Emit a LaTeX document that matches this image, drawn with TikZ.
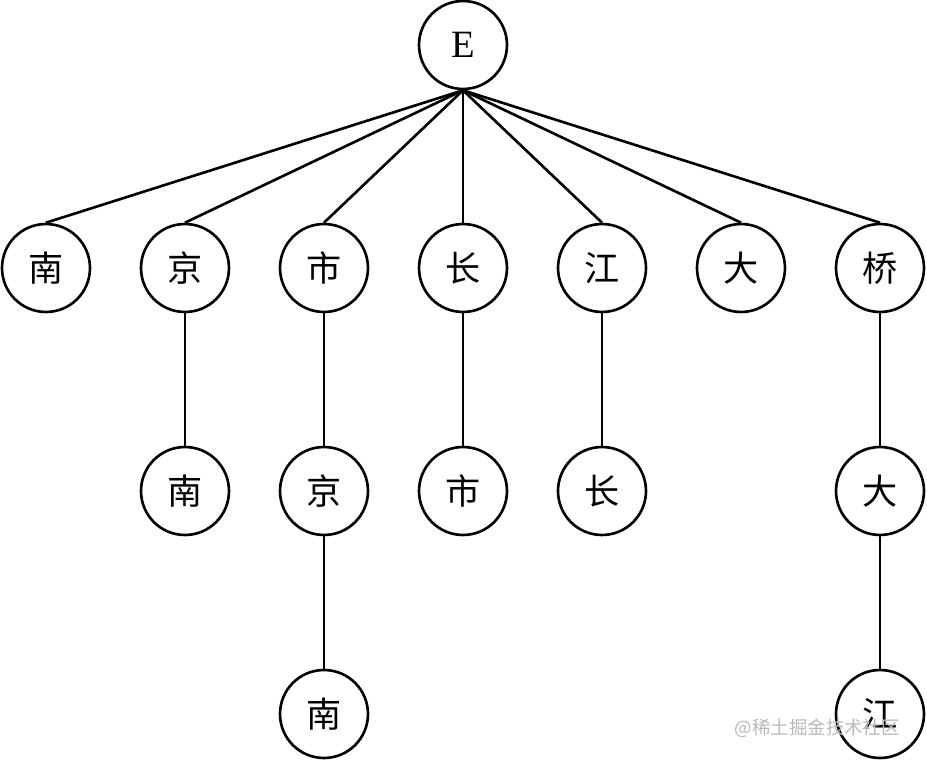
\documentclass[tikz,border=0pt]{standalone}
\usepackage{fontspec}
\setmainfont{Liberation Serif}
\newfontfamily\cjk{Noto Sans CJK SC}
\usepackage{tikz}
\tikzset{
  trienode/.style={draw,circle,line width=1.5pt,minimum size=1.76cm,inner sep=0pt,font=\cjk\fontsize{20}{20}\selectfont},
  trieedge/.style={line width=1.5pt}
}
\begin{document}
\begin{tikzpicture}[x=0.02cm,y=-0.02cm]
    \useasboundingbox (0,0) rectangle (927,760);
    \node[trienode] (root) at (463,45) {\rmfamily\fontsize{22}{22}\selectfont E};
    \node[trienode] (nan) at (46,268) {南};
    \node[trienode] (jing) at (185,268) {京};
    \node[trienode] (shi) at (324,268) {市};
    \node[trienode] (chang) at (463,268) {长};
    \node[trienode] (jiang) at (602,268) {江};
    \node[trienode] (da) at (741,268) {大};
    \node[trienode] (qiao) at (880,268) {桥};
    \node[trienode] (jingnan) at (185,491) {南};
    \node[trienode] (shijing) at (324,491) {京};
    \node[trienode] (changshi) at (463,491) {市};
    \node[trienode] (jiangchang) at (602,491) {长};
    \node[trienode] (qiaoda) at (880,491) {大};
    \node[trienode] (shijingnan) at (324,714) {南};
    \node[trienode] (qiaodajiang) at (880,714) {江};
    \foreach \c in {nan,jing,shi,chang,jiang,da,qiao}
      \draw[trieedge] (root.south) -- (\c.north);
    \draw[trieedge] (jing) -- (jingnan);
    \draw[trieedge] (shi) -- (shijing);
    \draw[trieedge] (shijing) -- (shijingnan);
    \draw[trieedge] (chang) -- (changshi);
    \draw[trieedge] (jiang) -- (jiangchang);
    \draw[trieedge] (qiao) -- (qiaoda);
    \draw[trieedge] (qiaoda) -- (qiaodajiang);
    \node[text=gray!55,font=\cjk\fontsize{10.5}{10.5}\selectfont,anchor=east] (mark) at (906,728) {@稀土掘金技术社区};
\end{tikzpicture}
\end{document}
